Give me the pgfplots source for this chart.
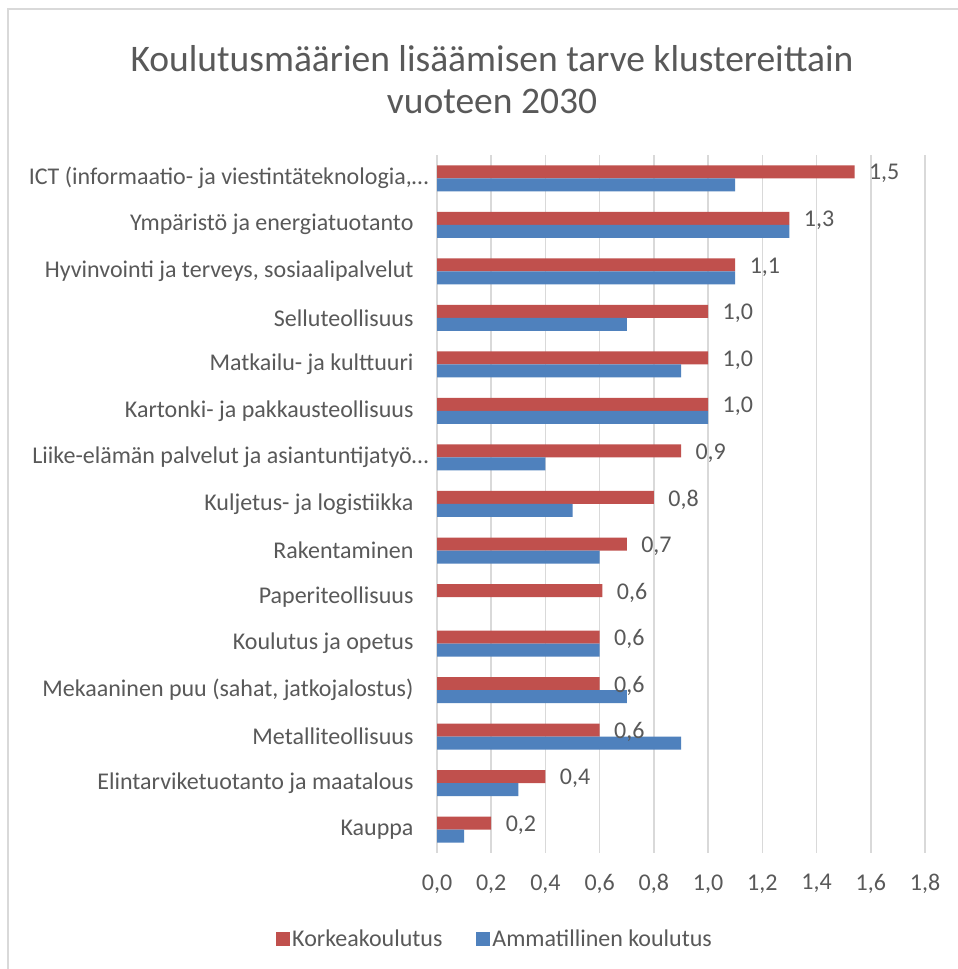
\documentclass[border=0pt]{standalone}
\usepackage{fontspec}
\setmainfont{Carlito}
\usepackage{pgfplots}
\usepackage{pgfplotstable}
\pgfplotsset{compat=1.18}
\definecolor{kred}{HTML}{C0504D}
\definecolor{kblue}{HTML}{4F81BD}
\definecolor{txt}{HTML}{595959}
\definecolor{gridc}{HTML}{D9D9D9}
\definecolor{frame}{HTML}{D9D9D9}

\pgfplotstableread{
y red blue
0 0.2 0.1
1 0.4 0.3
2 0.6 0.9
3 0.6 0.7
4 0.6 0.6
5 0.61 nan
6 0.7 0.6
7 0.8 0.5
8 0.9 0.4
9 1.0 1.0
10 1.0 0.9
11 1.0 0.7
12 1.1 1.1
13 1.3 1.3
14 1.54 1.1
}\data

\begin{document}
\begin{tikzpicture}[x=1pt,y=1pt]
\useasboundingbox (0,0) rectangle (958,969);
\fill[white] (0,0) rectangle (958,969);
\draw[frame, line width=2pt] (8,-10) -- (8,960) -- (970,960);
\node[txt, align=center, font=\fontsize{37.5}{42}\selectfont] at (492,889) {Koulutusmäärien lisäämisen tarve klustereittain\\vuoteen 2030};
\begin{axis}[
  at={(437pt,116pt)}, anchor=south west,
  width=488pt, height=698pt, scale only axis,
  xbar, bar width=13pt,
  xmin=0, xmax=1.8,
  ymin=-0.5, ymax=14.5,
  xtick={0,0.2,0.4,0.6,0.8,1.0,1.2,1.4,1.6,1.8},
  ytick={0,...,14},
  yticklabels={Kauppa, Elintarviketuotanto ja maatalous, Metalliteollisuus, Mekaaninen puu (sahat{,} jatkojalostus), Koulutus ja opetus, Paperiteollisuus, Rakentaminen, Kuljetus- ja logistiikka, Liike-elämän palvelut ja asiantuntijatyö…\hspace*{-15pt}, Kartonki- ja pakkausteollisuus, Matkailu- ja kulttuuri, Selluteollisuus, Hyvinvointi ja terveys{,} sosiaalipalvelut, Ympäristö ja energiatuotanto, ICT (informaatio- ja viestintäteknologia{,}…\hspace*{-15pt}},
  axis line style={draw=none},
  major tick length=0pt,
  xmajorgrids, ymajorgrids=false,
  major grid style={gridc, line width=1.5pt},
  /pgf/number format/fixed,
  /pgf/number format/fixed zerofill,
  /pgf/number format/precision=1,
  /pgf/number format/use comma,
  /pgf/number format/assume math mode=true,
  ticklabel style={txt, font=\fontsize{24}{28}\selectfont},
  xticklabel style={yshift=-18pt},
  yticklabel style={xshift=-20pt},
  legend style={at={(0.119,-0.123)}, anchor=center, draw=none, legend columns=2,
    font=\fontsize{24}{28}\selectfont, text=txt, inner sep=0pt,
    /tikz/every even column/.append style={column sep=32pt}},
  legend image code/.code={\fill[#1] (0pt,-7pt) rectangle (14pt,7pt);},
  clip=false,
]
\addplot[fill=kred, draw=none, bar shift=6.5pt,
  nodes near coords,
  nodes near coords style={txt, anchor=west, xshift=11pt, yshift=-2pt, font=\fontsize{24}{28}\selectfont}]
  table[x=red, y=y] {\data};
\addlegendentry{Korkeakoulutus}
\addplot[fill=kblue, draw=none, bar shift=-6.5pt] table[x=blue, y=y] {\data};
\addlegendentry{Ammatillinen koulutus}
\end{axis}
\end{tikzpicture}
\end{document}
